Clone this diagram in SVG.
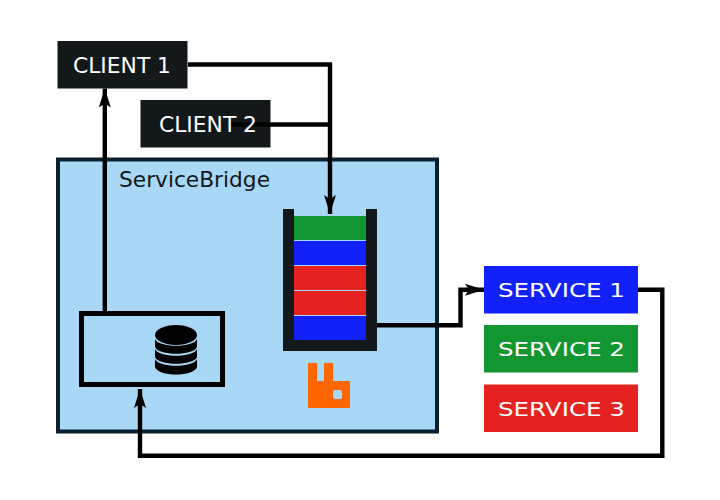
<svg xmlns="http://www.w3.org/2000/svg" width="720" height="500" viewBox="0 0 720 500">
<style>
text{font-family:"DejaVu Sans",sans-serif;font-size:20px;fill:#fff;text-anchor:middle}
.c{fill:none;stroke:#000;stroke-width:4.400}
.a{marker-end:url(#ah)}
.dark{fill:#13181b}
</style>
<defs>
<marker id="ah" markerUnits="userSpaceOnUse" markerWidth="20" markerHeight="14" refX="19" refY="7" orient="auto">
<path d="M19 7L0 1L4 7L0 13Z" fill="#000"/>
</marker>
</defs>
<rect width="720" height="500" fill="#fff"/>
<g id="servicebridge">
<rect x="58" y="159.500" width="379" height="272" fill="#a9d7f6" stroke="#08202f" stroke-width="4"/>
<text x="194.500" y="187.300" textLength="151" lengthAdjust="spacingAndGlyphs" style="font-size:22px;fill:#13181b">ServiceBridge</text>
</g>
<g id="client-1">
<rect x="57.500" y="41" width="130" height="47.500" class="dark"/>
<text x="122" y="72.500" textLength="98" lengthAdjust="spacingAndGlyphs" style="font-size:20.500px">CLIENT 1</text>
</g>
<g id="client-2">
<rect x="140.500" y="100" width="130" height="47.500" class="dark"/>
<path d="M230 124.500H271" stroke="#000" stroke-width="4.400"/>
<text x="208" y="131.500" textLength="98" lengthAdjust="spacingAndGlyphs" style="font-size:20.500px">CLIENT 2</text>
</g>
<g id="queue">
<path d="M283 209H294V340H366V209H377V351H283Z" class="dark"/>
<rect x="294" y="216" width="72" height="24" fill="#129632"/>
<rect x="294" y="241" width="72" height="24" fill="#1220fa"/>
<rect x="294" y="266" width="72" height="24" fill="#e52220"/>
<rect x="294" y="291" width="72" height="24" fill="#e52220"/>
<rect x="294" y="316" width="72" height="24" fill="#1220fa"/>
</g>
<g id="rabbitmq">
<path fill-rule="evenodd" d="M309 363H316Q317 363 317 364V381H324V364Q324 363 325 363H332Q333 363 333 364V381H349Q350 381 350 382V407Q350 408 349 408H309Q308 408 308 407V364Q308 363 309 363ZM335 390Q333 390 333 392V397Q333 399 335 399H340Q342 399 342 397V392Q342 390 340 390Z" fill="#f60"/>
</g>
<g id="database">
<rect x="81.500" y="313.500" width="141" height="71" fill="none" stroke="#000" stroke-width="5"/>
<ellipse cx="176" cy="335" rx="21" ry="10"/>
<path d="M155 339C158 348 194 348 197 339V347C194 356 158 356 155 347Z"/>
<path d="M155 349C158 358 194 358 197 349V357C194 366 158 366 155 357Z"/>
<path d="M155 359C158 368 194 368 197 359V367C194 377 158 377 155 367Z"/>
</g>
<g id="service-1">
<rect x="484" y="266" width="154" height="47.500" fill="#1220fa"/>
<text x="561.500" y="296.700" textLength="127" lengthAdjust="spacingAndGlyphs">SERVICE 1</text>
</g>
<g id="service-2">
<rect x="484" y="325" width="154" height="47.500" fill="#129632"/>
<text x="561.500" y="356" textLength="127" lengthAdjust="spacingAndGlyphs">SERVICE 2</text>
</g>
<g id="service-3">
<rect x="484" y="384.500" width="154" height="47.500" fill="#e52220"/>
<text x="561.500" y="415.500" textLength="127" lengthAdjust="spacingAndGlyphs">SERVICE 3</text>
</g>
<g id="connectors">
<path class="c a" d="M104.800 311V88.500"/>
<path class="c a" d="M188 64.500H330V214"/>
<path class="c" d="M271 124.500H330"/>
<path class="c a" d="M377 325.300H460.500V289.700H484"/>
<path class="c a" d="M638 289.700H662.300V455.700H140V389"/>
</g>
</svg>
